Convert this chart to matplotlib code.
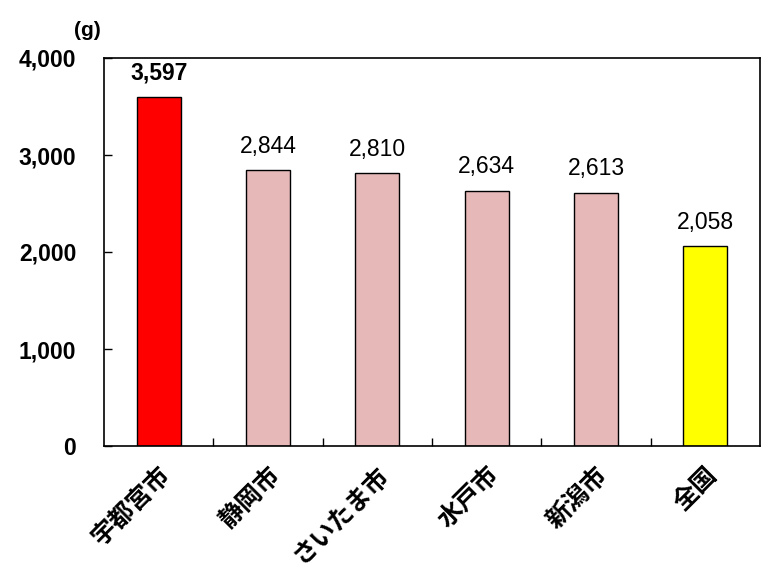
import matplotlib
matplotlib.use("Agg")
import matplotlib.pyplot as plt
import numpy as np
from matplotlib.ticker import FuncFormatter, FixedLocator

plt.rcParams['font.family'] = ['Liberation Sans', 'Noto Sans CJK JP', 'DejaVu Sans']

categories = ['宇都宮市', '静岡市', 'さいたま市', '水戸市', '新潟市', '全国']
values = [3597, 2844, 2810, 2634, 2613, 2058]
colors = ['#FF0000', '#E6B8B7', '#E6B8B7', '#E6B8B7', '#E6B8B7', '#FFFF00']
yticks = [0, 1000, 2000, 3000, 4000]
unit = '(g)'

fig = plt.figure(figsize=(7.78, 5.87), dpi=100)
ax = fig.add_axes([104/778, 1-446/587, (760-104)/778, (446-58)/587])

x = np.arange(len(categories))
bars = ax.bar(x, values, width=0.4, color=colors, edgecolor='black', linewidth=1.0, zorder=2)

ax.set_xlim(-0.5, len(categories)-0.5)
ax.set_ylim(0, 4000)
ax.set_yticks(yticks)
ax.yaxis.set_major_formatter(FuncFormatter(lambda v, p: f'{int(v):,}'))
ax.tick_params(axis='y', direction='in', length=6, width=1, pad=20, labelsize=16.5)
for lab in ax.get_yticklabels():
    lab.set_fontweight('bold')

ax.set_xticks(x)
ax.set_xticklabels(categories, rotation=45, ha='right', rotation_mode='anchor',
                   fontsize=18, fontweight='bold', family=['Noto Sans CJK JP', 'DejaVu Sans'])
ax.tick_params(axis='x', which='major', length=0, pad=12)
ax.xaxis.set_minor_locator(FixedLocator(x[:-1] + 0.5))
ax.tick_params(axis='x', which='minor', direction='in', length=6, width=1)

for s in ax.spines.values():
    s.set_linewidth(1.2)
    s.set_color('black')

for i, (xi, v) in enumerate(zip(x, values)):
    ax.annotate(f'{v:,}', (xi, v), xytext=(0, 9), textcoords='offset points',
                ha='center', va='bottom', fontsize=16.5,
                fontweight='bold' if i == 0 else 'normal')

fig.text(87/778, 1-30/587, unit, ha='center', va='center', fontsize=15, fontweight='bold')

fig.savefig('out.png', dpi=100)
